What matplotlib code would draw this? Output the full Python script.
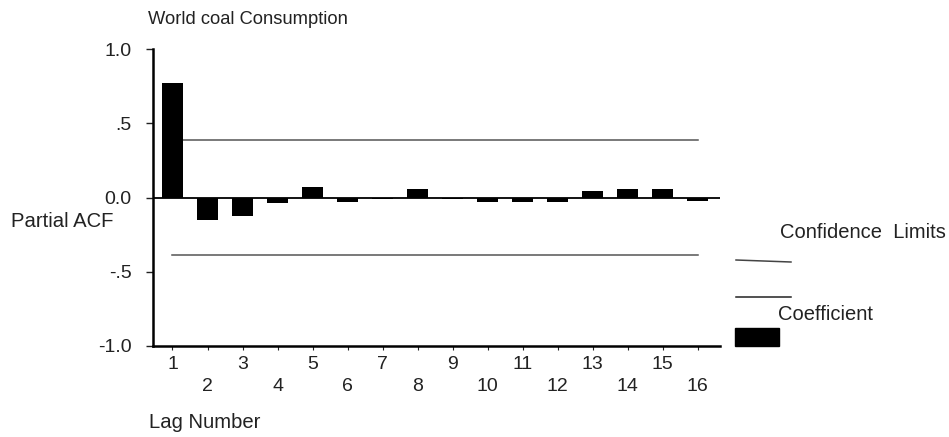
import matplotlib
matplotlib.use("Agg")
import matplotlib.pyplot as plt
from matplotlib.lines import Line2D
from matplotlib.patches import Rectangle

plt.rcParams['font.family'] = ['Liberation Sans', 'DejaVu Sans']

title = "World coal Consumption"
y_label = "Partial ACF"
x_label = "Lag Number"
lags = list(range(1, 17))
pacf = [0.77, -0.15, -0.125, -0.04, 0.07, -0.03, -0.01, 0.055,
        -0.01, -0.03, -0.03, -0.03, 0.045, 0.055, 0.06, -0.025]
conf_limit = 0.385
ytick_vals = [1.0, 0.5, 0.0, -0.5, -1.0]
ytick_labels = ["1.0", ".5", "0.0", "-.5", "-1.0"]
legend_conf = "Confidence  Limits"
legend_coef = "Coefficient"

W, H = 949, 437
fig = plt.figure(figsize=(W / 100, H / 100), dpi=100)
ax = fig.add_axes([153 / W, (H - 346) / H, (720 - 153) / W, (346 - 49) / H])

ax.bar(lags, pacf, width=0.58, color='black', zorder=3)
ax.axhline(0, color='black', lw=1.3, zorder=2)
ax.plot(lags, [conf_limit] * len(lags), color='#555555', lw=1.1, zorder=2)
ax.plot(lags, [-conf_limit] * len(lags), color='#555555', lw=1.1, zorder=2)

ax.set_xlim(0.443, 16.64)
ax.set_ylim(-1, 1)

for s in ['top', 'right']:
    ax.spines[s].set_visible(False)
ax.spines['left'].set_linewidth(1.8)
ax.spines['bottom'].set_linewidth(1.8)

tick_fs = 14
ax.set_yticks(ytick_vals, labels=ytick_labels)
odd = [l for l in lags if l % 2 == 1]
even = [l for l in lags if l % 2 == 0]
ax.set_xticks(odd, labels=[str(l) for l in odd])
ax.set_xticks(even, labels=[str(l) for l in even], minor=True)
ax.tick_params(axis='y', length=5, width=1, pad=10.5, labelsize=tick_fs, colors='#222222')
ax.tick_params(axis='x', which='major', length=3, width=0.8, pad=4, labelsize=tick_fs, colors='#222222')
ax.tick_params(axis='x', which='minor', length=3, width=0.8, pad=20, labelsize=tick_fs, colors='#222222')

def fx(px):
    return px / W

def fy(py):
    return 1 - py / H

fig.text(fx(148), fy(19), title, fontsize=13.2, va='center', ha='left', color='#222222')
fig.text(fx(11), fy(221), y_label, fontsize=14.6, va='center', ha='left', color='#222222')
fig.text(fx(149), fy(422), x_label, fontsize=14.6, va='center', ha='left', color='#222222')

# legend
fig.text(fx(780), fy(233), legend_conf, fontsize=14.5, va='center', ha='left', color='#222222')
fig.add_artist(Line2D([fx(736), fx(791)], [fy(260), fy(262)], color='#444444', lw=1.1))
fig.add_artist(Line2D([fx(736), fx(791)], [fy(297), fy(297)], color='#222222', lw=1.1))
fig.text(fx(778), fy(314), legend_coef, fontsize=14.5, va='center', ha='left', color='#222222')
fig.add_artist(Rectangle((fx(735), fy(346)), fx(779) - fx(735), fy(328) - fy(346),
                         facecolor='black', edgecolor='black', transform=fig.transFigure))

fig.savefig("out.png", dpi=100)
